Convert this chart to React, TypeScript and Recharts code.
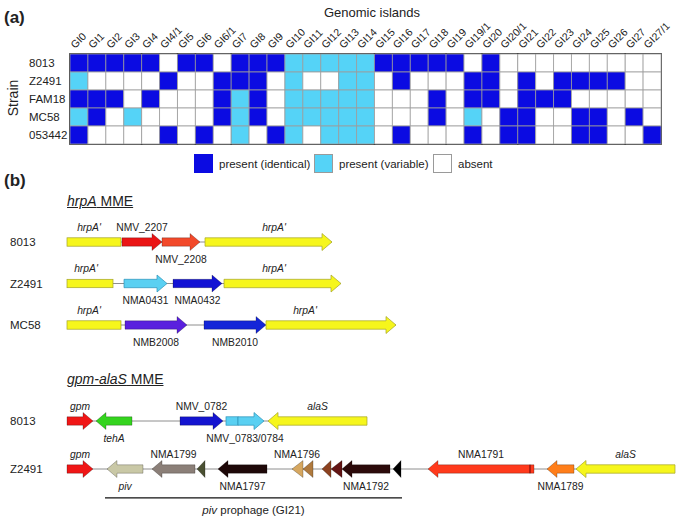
import React from "react";
import {
  BarChart,
  Bar,
  Cell,
  XAxis,
  YAxis,
  ReferenceArea,
  ReferenceDot,
  ComposedChart,
  Scatter,
} from "recharts";

// ---- (a) genomic islands ----
const ISLANDS = [
  "GI0", "GI1", "GI2", "GI3", "GI4", "GI4/1", "GI5", "GI6", "GI6/1", "GI7", "GI8",
  "GI9", "GI10", "GI11", "GI12", "GI13", "GI14", "GI15", "GI16", "GI17", "GI18",
  "GI19", "GI19/1", "GI20", "GI20/1", "GI21", "GI22", "GI23", "GI24", "GI25",
  "GI26", "GI27", "GI27/1",
];
const STRAINS = ["8013", "Z2491", "FAM18", "MC58", "053442"];

// 2 = present (identical), 1 = present (variable), 0 = absent
const GI_8013 = [2, 2, 2, 2, 2, 0, 2, 2, 0, 2, 2, 2, 1, 1, 1, 1, 1, 2, 2, 2, 2, 2, 0, 2, 0, 0, 0, 0, 0, 0, 0, 0, 0];
const GI_Z2491 = [1, 0, 0, 0, 0, 2, 0, 0, 2, 2, 2, 0, 1, 0, 0, 1, 1, 0, 2, 0, 0, 0, 2, 2, 0, 2, 0, 2, 2, 2, 2, 0, 0];
const GI_FAM18 = [2, 2, 2, 0, 2, 0, 0, 0, 2, 1, 2, 0, 1, 1, 1, 1, 1, 0, 0, 0, 2, 0, 2, 2, 0, 2, 2, 2, 0, 0, 0, 0, 0];
const GI_MC58 = [1, 2, 0, 1, 0, 0, 0, 0, 2, 1, 2, 0, 1, 1, 1, 1, 1, 0, 0, 0, 2, 0, 1, 0, 2, 2, 0, 0, 2, 2, 0, 2, 0];
const GI_053442 = [2, 0, 0, 0, 0, 2, 0, 2, 0, 1, 0, 2, 1, 0, 1, 1, 1, 0, 2, 0, 0, 0, 2, 0, 2, 2, 0, 0, 2, 2, 0, 0, 2];
const STATUS = [GI_8013, GI_Z2491, GI_FAM18, GI_MC58, GI_053442];

// island blocks framed with a heavy line
const GROUPS: [string, string][] = [
  ["GI0", "GI3"], ["GI4", "GI4/1"], ["GI5", "GI5"], ["GI6", "GI6/1"], ["GI7", "GI14"],
  ["GI15", "GI18"], ["GI19", "GI19/1"], ["GI20", "GI20/1"], ["GI21", "GI26"], ["GI27", "GI27/1"],
];

const STATUS_COLORS = ["#ffffff", "#55d3f7", "#0b0be2"];
const LEGEND_ITEMS = ["absent", "present (variable)", "present (identical)"];

// ---- (b) gene maps (relative coordinates) ----
type Gene = {
  id: string;
  label?: string;
  start: number;
  end: number;
  strand: number; // 1 right, -1 left, 0 fragment
  side?: "above" | "below";
  at?: number;
};

const HRPA_NAMES = ["8013", "Z2491", "MC58"];
const HRPA_8013: Gene[] = [
  { id: "hrpA", label: "hrpA'", start: 0, end: 54, strand: 0, side: "above", at: 22 },
  { id: "NMV_2207", label: "NMV_2207", start: 55, end: 95, strand: 1, side: "above" },
  { id: "NMV_2208", label: "NMV_2208", start: 95, end: 133, strand: 1, side: "below" },
  { id: "hrpA", label: "hrpA'", start: 138, end: 265, strand: 1, side: "above", at: 207 },
];
const HRPA_Z2491: Gene[] = [
  { id: "hrpA", label: "hrpA'", start: 0, end: 46, strand: 0, side: "above", at: 19 },
  { id: "NMA0431", label: "NMA0431", start: 57, end: 100, strand: 1, side: "below" },
  { id: "NMA0432", label: "NMA0432", start: 106, end: 155, strand: 1, side: "below" },
  { id: "hrpA", label: "hrpA'", start: 157, end: 274, strand: 1, side: "above", at: 207 },
];
const HRPA_MC58: Gene[] = [
  { id: "hrpA", label: "hrpA'", start: 0, end: 54, strand: 0, side: "above", at: 22 },
  { id: "NMB2008", label: "NMB2008", start: 58, end: 120, strand: 1, side: "below" },
  { id: "NMB2010", label: "NMB2010", start: 137, end: 199, strand: 1, side: "below" },
  { id: "hrpA", label: "hrpA'", start: 199, end: 329, strand: 1, side: "above", at: 238 },
];
const HRPA_TRACKS = [HRPA_8013, HRPA_Z2491, HRPA_MC58];

const GPM_NAMES = ["8013", "Z2491"];
const GPM_8013: Gene[] = [
  { id: "gpm", label: "gpm", start: 0, end: 26, strand: 1, side: "above" },
  { id: "tehA", label: "tehA", start: 29, end: 65, strand: -1, side: "below" },
  { id: "NMV_0782", label: "NMV_0782", start: 113, end: 156, strand: 1, side: "above" },
  { id: "NMV_0783", start: 159, end: 171, strand: 0 },
  { id: "NMV_0784", label: "NMV_0783/0784", start: 171, end: 197, strand: 1, side: "below", at: 178 },
  { id: "alaS", label: "alaS", start: 201, end: 300, strand: -1, side: "above" },
];
const GPM_Z2491: Gene[] = [
  { id: "gpm", label: "gpm", start: 0, end: 26, strand: 1, side: "above" },
  { id: "piv", label: "piv", start: 40, end: 76, strand: -1, side: "below" },
  { id: "NMA1799", label: "NMA1799", start: 85, end: 128, strand: -1, side: "above" },
  { id: "orf1798", start: 130, end: 138, strand: -1 },
  { id: "NMA1797", label: "NMA1797", start: 151, end: 200, strand: -1, side: "below" },
  { id: "orf1796a", label: "NMA1796", start: 225, end: 236, strand: -1, side: "above", at: 230 },
  { id: "orf1796b", start: 236, end: 246, strand: -1 },
  { id: "orf1794", start: 255, end: 264, strand: -1 },
  { id: "orf1793", start: 264, end: 275, strand: -1 },
  { id: "NMA1792", label: "NMA1792", start: 275, end: 323, strand: -1, side: "below" },
  { id: "orf1792b", start: 326, end: 334, strand: -1 },
  { id: "NMA1791", label: "NMA1791", start: 361, end: 467, strand: -1, side: "above" },
  { id: "NMA1791c", start: 463, end: 467, strand: 0 },
  { id: "NMA1789", label: "NMA1789", start: 480, end: 507, strand: -1, side: "below" },
  { id: "alaS", label: "alaS", start: 509, end: 608, strand: -1, side: "above" },
];
const GPM_TRACKS = [GPM_8013, GPM_Z2491];
const PROPHAGE = { start: 38, end: 335, track: 1.6 };

const GENE_COLORS: Record<string, string> = {
  hrpA: "#f6f61c",
  NMV_2207: "#ea1515",
  NMV_2208: "#f2492a",
  NMA0431: "#5ad0f2",
  NMA0432: "#1212d4",
  NMB2008: "#5a20de",
  NMB2010: "#1426d8",
  gpm: "#f01616",
  tehA: "#34d41e",
  NMV_0782: "#1414d0",
  NMV_0783: "#5ad0f2",
  NMV_0784: "#5ad0f2",
  alaS: "#f6f61c",
  piv: "#c9c8a6",
  NMA1799: "#8b7f78",
  orf1798: "#4a5032",
  NMA1797: "#1e0808",
  orf1796a: "#d6a760",
  orf1796b: "#b07a3e",
  orf1794: "#8c4220",
  orf1793: "#621414",
  NMA1792: "#2c0a0a",
  orf1792b: "#000000",
  NMA1791: "#ff3a1c",
  NMA1791c: "#ff3a1c",
  NMA1789: "#ff7e1a",
};

const FONT = '"Liberation Sans", Arial, Helvetica, sans-serif';

function geneShape(g: Gene) {
  return (p: any) => {
    const x = p.x;
    const w = p.width;
    const cy = p.y + p.height / 2;
    const bh = 4.2;
    const hh = 8.5;
    const fill = GENE_COLORS[g.id];
    const stroke = fill === "#f6f61c" ? "#a3a32a" : fill === "#5ad0f2" ? "#2b92b8" : "rgba(0,0,0,0.35)";
    if (g.strand === 0) {
      if (g.id === "NMA1791c") {
        return <line x1={x} x2={x} y1={cy - bh} y2={cy + bh} stroke="#7a0c0c" strokeWidth={1.2} />;
      }
      return <rect x={x} y={cy - bh} width={w} height={bh * 2} fill={fill} stroke={stroke} strokeWidth={0.7} />;
    }
    const head = w <= 13 ? w : 10;
    let pts: number[][];
    if (g.strand > 0) {
      const hx = x + w - head;
      pts = head === w
        ? [[x, cy - hh], [x + w, cy], [x, cy + hh]]
        : [[x, cy - bh], [hx, cy - bh], [hx, cy - hh], [x + w, cy], [hx, cy + hh], [hx, cy + bh], [x, cy + bh]];
    } else {
      const hx = x + head;
      pts = head === w
        ? [[x + w, cy - hh], [x, cy], [x + w, cy + hh]]
        : [[x + w, cy - bh], [hx, cy - bh], [hx, cy - hh], [x, cy], [hx, cy + hh], [hx, cy + bh], [x + w, cy + bh]];
    }
    return (
      <polygon points={pts.map((q) => q.join(",")).join(" ")} fill={fill} stroke={stroke} strokeWidth={0.7} strokeLinejoin="miter" />
    );
  };
}

function labelShape(g: Gene) {
  return (p: any) => {
    const italic = !(g.label || "").startsWith("NM");
    return (
      <text
        x={p.cx}
        y={g.side === "above" ? p.cy - 11.5 : p.cy + 20.5}
        textAnchor="middle"
        fontSize={10.3}
        fontStyle={italic ? "italic" : "normal"}
        fill="#222"
        fontFamily={FONT}
      >
        {g.label}
      </text>
    );
  };
}

function renderTracks(tracks: Gene[][]) {
  const out: React.ReactNode[] = [];
  tracks.forEach((genes, t) => {
    const end = Math.max(...genes.map((g) => g.end));
    out.push(
      <ReferenceArea
        key={`bb${t}`}
        x1={0}
        x2={end}
        y1={t - 0.1}
        y2={t + 0.1}
        ifOverflow="visible"
        shape={(p: any) => (
          <line x1={p.x} x2={p.x + p.width} y1={p.y + p.height / 2} y2={p.y + p.height / 2} stroke="#8e8e8e" strokeWidth={1} />
        )}
      />
    );
  });
  tracks.forEach((genes, t) => {
    genes.forEach((g, i) => {
      out.push(
        <ReferenceArea
          key={`g${t}-${i}`}
          x1={g.start}
          x2={g.end}
          y1={t - 0.1}
          y2={t + 0.1}
          ifOverflow="visible"
          shape={geneShape(g)}
        />
      );
      if (g.label) {
        out.push(
          <ReferenceDot
            key={`l${t}-${i}`}
            x={g.at ?? (g.start + g.end) / 2}
            y={t}
            r={0}
            ifOverflow="visible"
            shape={labelShape(g)}
          />
        );
      }
    });
  });
  return out;
}

function trackTick(names: string[]) {
  return (p: any) => (
    <text x={10} y={p.y + 4} fontSize={11.5} fill="#222" fontFamily={FONT}>
      {names[p.payload.value]}
    </text>
  );
}

const heatData = ISLANDS.map((gi) => {
  const row: Record<string, any> = { gi };
  STRAINS.forEach((_, k) => (row[`s${k}`] = 1));
  return row;
});

function IslandTick(p: any) {
  return (
    <text
      transform={`translate(${p.x - 4},${p.y + 3}) rotate(-45)`}
      fontSize={10.5}
      fill="#222"
      fontFamily={FONT}
    >
      {p.payload.value}
    </text>
  );
}

function StrainTick(p: any) {
  return (
    <text x={29} y={p.y + 4} fontSize={11.5} fill="#222" fontFamily={FONT}>
      {STRAINS[Math.floor(p.payload.value)]}
    </text>
  );
}

export default function App() {
  const legendOrder = [2, 1, 0];
  const legendX = [194, 314, 433];
  return (
    <div
      style={{
        position: "absolute",
        left: 0,
        top: 0,
        width: 685,
        height: 523,
        background: "#fff",
        fontFamily: FONT,
        color: "#222",
        overflow: "hidden",
      }}
    >
      {/* (a) heatmap */}
      <div style={{ position: "absolute", left: 4, top: 8, fontSize: 17, fontWeight: 700 }}>(a)</div>
      <div style={{ position: "absolute", left: 372, top: 5, fontSize: 13, transform: "translateX(-50%)", whiteSpace: "nowrap" }}>
        Genomic islands
      </div>
      <div
        style={{
          position: "absolute",
          left: 13,
          top: 98,
          fontSize: 14,
          transform: "translate(-50%,-50%) rotate(-90deg)",
        }}
      >
        Strain
      </div>
      <div style={{ position: "absolute", left: 0, top: 0 }}>
        <BarChart
          width={685}
          height={150}
          data={heatData}
          margin={{ top: 14, right: 24, bottom: 6, left: 10 }}
          barCategoryGap={0}
          barGap={0}
        >
          <XAxis dataKey="gi" orientation="top" height={40} interval={0} tickLine={false} axisLine={false} tick={IslandTick} />
          <YAxis
            type="number"
            domain={[0, 5]}
            reversed
            ticks={[0.5, 1.5, 2.5, 3.5, 4.5]}
            interval={0}
            width={60}
            tickLine={false}
            axisLine={false}
            tick={StrainTick}
          />
          {STRAINS.map((s, k) => (
            <Bar key={s} dataKey={`s${k}`} stackId="grid" isAnimationActive={false}>
              {ISLANDS.map((gi, i) => (
                <Cell key={gi} fill={STATUS_COLORS[STATUS[k][i]]} stroke="#9c9c9c" strokeWidth={0.8} />
              ))}
            </Bar>
          ))}
          {GROUPS.map(([a, b]) => (
            <ReferenceArea
              key={a}
              x1={a}
              x2={b}
              y1={0}
              y2={5}
              ifOverflow="visible"
              fill="none"
              fillOpacity={0}
              stroke="#000"
              strokeWidth={1.6}
            />
          ))}
        </BarChart>
      </div>
      {/* legend */}
      {legendOrder.map((code, i) => (
        <div key={code} style={{ position: "absolute", left: legendX[i], top: 154, display: "flex", alignItems: "center" }}>
          <span
            style={{
              width: 17,
              height: 17,
              background: STATUS_COLORS[code],
              border: code === 2 ? "0.5px solid #0b0be2" : "0.5px solid #9a9a9a",
              display: "inline-block",
            }}
          />
          <span style={{ fontSize: 11.5, marginLeft: 6, whiteSpace: "nowrap" }}>{LEGEND_ITEMS[code]}</span>
        </div>
      ))}

      {/* (b) gene maps */}
      <div style={{ position: "absolute", left: 4, top: 171, fontSize: 17, fontWeight: 700 }}>(b)</div>
      <div style={{ position: "absolute", left: 67, top: 193, fontSize: 14, textDecoration: "underline", whiteSpace: "nowrap" }}>
        <i>hrpA</i> MME
      </div>
      <div style={{ position: "absolute", left: 0, top: 215 }}>
        <ComposedChart width={685} height={140} margin={{ top: 6.25, right: 10, bottom: 9.25, left: 10 }}>
          <XAxis type="number" dataKey="x" domain={[0, 608]} hide allowDataOverflow />
          <YAxis
            type="number"
            dataKey="y"
            domain={[-0.5, 2.5]}
            reversed
            ticks={[0, 1, 2]}
            interval={0}
            width={57}
            tickLine={false}
            axisLine={false}
            tick={trackTick(HRPA_NAMES)}
            allowDataOverflow
          />
          <Scatter data={HRPA_NAMES.map((_, i) => ({ x: 0, y: i }))} shape={() => <g />} isAnimationActive={false} />
          {renderTracks(HRPA_TRACKS)}
        </ComposedChart>
      </div>

      <div style={{ position: "absolute", left: 67, top: 371, fontSize: 14, textDecoration: "underline", whiteSpace: "nowrap" }}>
        <i>gpm-alaS</i> MME
      </div>
      <div style={{ position: "absolute", left: 0, top: 390 }}>
        <ComposedChart width={685} height={133} margin={{ top: 7, right: 10, bottom: 6, left: 10 }}>
          <XAxis type="number" dataKey="x" domain={[0, 608]} hide allowDataOverflow />
          <YAxis
            type="number"
            dataKey="y"
            domain={[-0.5, 2]}
            reversed
            ticks={[0, 1]}
            interval={0}
            width={57}
            tickLine={false}
            axisLine={false}
            tick={trackTick(GPM_NAMES)}
            allowDataOverflow
          />
          <Scatter data={GPM_NAMES.map((_, i) => ({ x: 0, y: i }))} shape={() => <g />} isAnimationActive={false} />
          {renderTracks(GPM_TRACKS)}
          <ReferenceArea
            x1={PROPHAGE.start}
            x2={PROPHAGE.end}
            y1={PROPHAGE.track - 0.05}
            y2={PROPHAGE.track + 0.05}
            ifOverflow="visible"
            shape={(p: any) => {
              const y = p.y + p.height / 2;
              return (
                <g>
                  <line x1={p.x} x2={p.x + p.width} y1={y} y2={y} stroke="#111" strokeWidth={1.2} />
                  <text x={p.x + p.width / 2} y={y + 16} textAnchor="middle" fontSize={11.5} fill="#222" fontFamily={FONT}>
                    <tspan fontStyle="italic">piv</tspan> prophage (GI21)
                  </text>
                </g>
              );
            }}
          />
        </ComposedChart>
      </div>
    </div>
  );
}
